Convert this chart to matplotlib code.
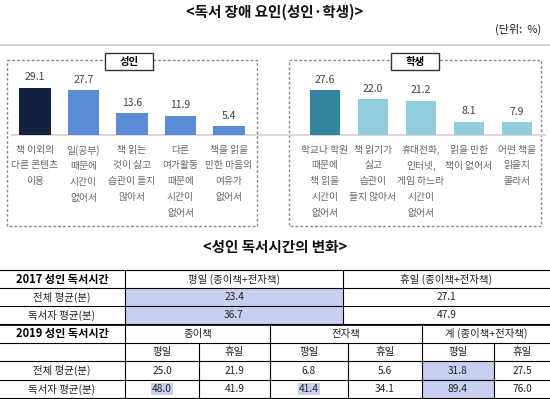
"""
독서 장애 요인 / 성인 독서시간 변화 인포그래픽.
"""

import matplotlib
matplotlib.use("Agg")
import matplotlib.pyplot as plt
from matplotlib.patches import Rectangle

plt.rcParams['font.family'] = ['Noto Sans CJK KR', 'DejaVu Sans']

# 데이터
adult_labels = ["책 이외의\n다른 콘텐츠\n이용", "일(공부)\n때문에\n시간이\n없어서",
                "책 읽는\n것이 싫고\n습관이 들지\n않아서", "다른\n여가활동\n때문에\n시간이\n없어서",
                "책을 읽을\n만한 마음의\n여유가\n없어서"]
adult_values = [29.1, 27.7, 13.6, 11.9, 5.4]
student_labels = ["학교나 학원\n때문에\n책 읽을\n시간이\n없어서", "책 읽기가\n싫고\n습관이\n들지 않아서",
                  "휴대전화,\n인터넷,\n게임 하느라\n시간이\n없어서", "읽을 만한\n책이 없어서",
                  "어떤 책을\n읽을지\n몰라서"]
student_values = [27.6, 22.0, 21.2, 8.1, 7.9]

t17_title = "2017 성인 독서시간"
t17_cols = ["평일 (종이책+전자책)", "휴일 (종이책+전자책)"]
row_names = ["전체 평균(분)", "독서자 평균(분)"]
t17_values = [[23.4, 27.1], [36.7, 47.9]]
t19_title = "2019 성인 독서시간"
t19_groups = ["종이책", "전자책", "계 (종이책+전자책)"]
t19_sub = ["평일", "휴일"]
t19_values = [[25.0, 21.9, 6.8, 5.6, 31.8, 27.5],
              [48.0, 41.9, 41.4, 34.1, 89.4, 76.0]]

W, H = 550, 399
HL = "#c7d0f0"      # 강조 셀 색
TXT = "#404040"

fig = plt.figure(figsize=(W / 100, H / 100), dpi=100)
bg = fig.add_axes((0, 0, 1, 1))
bg.set_xlim(0, W)
bg.set_ylim(H, 0)
bg.axis("off")

# 제목
bg.text(275, 12, "<독서 장애 요인(성인·학생)>", ha="center", va="center", fontsize=10.5, fontweight="bold",
        color="#111111")
bg.text(541, 29, "(단위:  %)", ha="right", va="center", fontsize=8, color="#222222")
bg.plot([0, W], [45, 45], color="#cccccc", lw=1.2)

# 점선 박스와 라벨
for x0, x1, name, lx in [(7, 257, "성인", 129), (289, 541, "학생", 415)]:
    bg.add_patch(Rectangle((x0, 60), x1 - x0, 166, fill=False, ec="#8a8a8a", lw=1, ls=(0, (2, 1.5))))
    bg.add_patch(Rectangle((lx - 24, 53), 48, 17, fc="white", ec="#333333", lw=1, zorder=3))
    bg.text(lx, 61.5, name, ha="center", va="center", fontsize=7.5, fontweight="bold", zorder=4)
bg.plot([12, 545], [135, 135], color="#d9d9d9", lw=1.5)


def bar_panel(x_center0, spacing, values, labels, colors):
    left = x_center0 - spacing / 2
    ax = fig.add_axes((left / W, (H - 135) / H, 5 * spacing / W, 60 / H))
    ax.patch.set_alpha(0)
    ax.bar(range(5), values, width=0.64, color=colors)
    ax.set_xlim(-0.5, 4.5)
    ax.set_ylim(0, 60 / 1.62)
    for i, v in enumerate(values):
        ax.annotate(f"{v:.1f}", (i, v), xytext=(0, 7.5), textcoords="offset points",
                    ha="center", va="center", fontsize=7.5, color=TXT)
    ax.set_xticks(range(5))
    ax.set_xticklabels(labels, fontsize=7, color="#666666", linespacing=1.72)
    ax.tick_params(axis="x", length=0, pad=7)
    ax.set_yticks([])
    for s in ax.spines.values():
        s.set_visible(False)


bar_panel(35, 48.5, adult_values, adult_labels, ["#13233f"] + ["#5a8dd6"] * 4)
bar_panel(325, 48, student_values, student_labels, ["#31849b"] + ["#92cddc"] * 4)

# 두 번째 제목
bg.text(275, 247, "<성인 독서시간의 변화>", ha="center", va="center", fontsize=10.5, fontweight="bold",
        color="#111111")

# 표
rows = [270, 288, 306, 324, 343, 361, 380, 398]
mid = [(rows[i] + rows[i + 1]) / 2 for i in range(len(rows) - 1)]
lw = 0.8


def hline(y, x0=0, x1=W):
    bg.plot([x0, x1], [y, y], color="black", lw=lw)


def vline(x, y0, y1):
    bg.plot([x, x], [y0, y1], color="black", lw=lw)


# 2017 표
c17 = [0, 125, 343, W]
bg.add_patch(Rectangle((125, rows[1]), 218, rows[3] - rows[1], fc=HL, ec="none"))
for y in rows:
    hline(y)
bg.plot([0, W], [rows[3] + 0.8, rows[3] + 0.8], color="black", lw=0.6)
vline(125, rows[0], rows[3])
vline(343, rows[0], rows[3])
bg.text(62, mid[0], t17_title, ha="center", va="center", fontsize=8, fontweight="bold")
for j, c in enumerate(t17_cols):
    bg.text((c17[j + 1] + c17[j + 2]) / 2, mid[0], c, ha="center", va="center", fontsize=7.5, color="#222222")
for i, name in enumerate(row_names):
    bg.text(62, mid[1 + i], name, ha="center", va="center", fontsize=7.5, color="#222222")
    for j in range(2):
        bg.text((c17[j + 1] + c17[j + 2]) / 2, mid[1 + i], f"{t17_values[i][j]:.1f}",
                ha="center", va="center", fontsize=7.3, color="#222222")

# 2019 표
c19 = [0, 125, 199, 270, 348, 422, 494, W]
bg.add_patch(Rectangle((422, rows[5]), 72, rows[7] - rows[5], fc=HL, ec="none"))
vline(125, rows[3], rows[7])
for x in [270, 422]:
    vline(x, rows[3], rows[7])
for x in [199, 348, 494]:
    vline(x, rows[4], rows[7])
bg.text(62, mid[3], t19_title, ha="center", va="center", fontsize=8, fontweight="bold")
for g, name in enumerate(t19_groups):
    bg.text((c19[1 + 2 * g] + c19[3 + 2 * g]) / 2, mid[3], name, ha="center", va="center",
            fontsize=7.5, color="#222222")
    for k, s in enumerate(t19_sub):
        bg.text((c19[1 + 2 * g + k] + c19[2 + 2 * g + k]) / 2, mid[4], s, ha="center", va="center",
                fontsize=7.5, color="#222222")
for i, name in enumerate(row_names):
    bg.text(62, mid[5 + i], name, ha="center", va="center", fontsize=7.5, color="#222222")
    for j in range(6):
        box = None
        if i == 1 and j in (0, 2):
            box = dict(boxstyle="square,pad=0.05", fc=HL, ec="none")
        bg.text((c19[1 + j] + c19[2 + j]) / 2, mid[5 + i], f"{t19_values[i][j]:.1f}",
                ha="center", va="center", fontsize=7.3, color="#222222", bbox=box)

fig.savefig("out.png", dpi=100)
